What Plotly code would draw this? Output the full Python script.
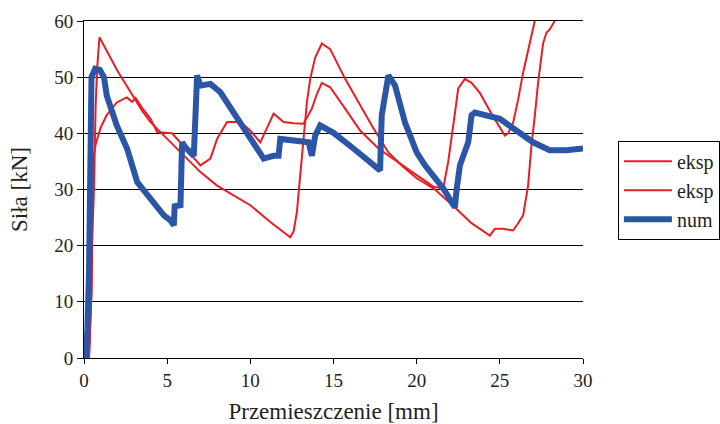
import plotly.graph_objects as go

# Experimental curve 1 (displacement [mm], force [kN])
eksp1_x = [0.30, 0.45, 0.50, 0.60, 0.70, 0.80, 0.93, 1.4, 2.0, 2.5, 3.0, 3.5, 4.0, 5.0,
           6.0, 7.0, 8.0, 9.0, 10.0, 11.2, 12.4, 12.6, 12.8, 13.0, 13.2, 13.4, 13.6, 13.9,
           14.3, 14.8, 15.7, 16.5, 17.3, 18.3, 19.2, 20.0, 21.1, 22.3, 23.3, 24.4, 24.7,
           25.2, 25.8, 26.1, 26.4, 26.7, 26.9, 27.1, 27.3, 27.6, 27.8, 28.0, 28.3]
eksp1_y = [0.0, 11.7, 22.0, 30.0, 45.0, 52.0, 57.1, 54.5, 51.2, 48.8, 46.4, 44.0, 42.0,
           39.0, 36.0, 33.1, 30.7, 29.0, 27.2, 24.2, 21.5, 22.5, 26.0, 32.5, 39.6, 45.5,
           49.7, 53.5, 56.0, 55.0, 49.7, 45.5, 41.4, 36.6, 34.0, 32.0, 30.0, 26.8, 24.0,
           21.8, 23.0, 23.0, 22.7, 24.0, 25.4, 30.7, 37.8, 43.0, 49.0, 56.0, 57.9, 58.5,
           60.0]

# Experimental curve 2
eksp2_x = [0.30, 0.45, 0.50, 0.57, 0.70, 0.80, 1.0, 1.36, 1.97, 2.57, 2.9, 3.1, 3.5,
           4.0, 4.4, 5.3, 6.2, 7.0, 7.6, 8.0, 8.6, 9.4, 10.0, 10.6, 11.4, 12.0, 12.6,
           13.2, 13.7, 14.0, 14.3, 14.8, 15.7, 16.6, 17.7, 18.8, 20.0, 21.0, 21.6, 21.9,
           22.2, 22.5, 22.9, 23.3, 23.8, 24.5, 25.3, 25.5, 25.8, 26.1, 26.4, 26.8, 27.1]
eksp2_y = [0.0, 12.0, 25.0, 35.7, 38.0, 39.0, 41.0, 43.2, 45.5, 46.4, 45.6, 46.3, 44.5,
           42.6, 40.2, 40.0, 37.0, 34.3, 35.5, 39.0, 42.0, 42.0, 40.5, 38.4, 43.5, 42.0,
           41.8, 41.7, 44.4, 47.0, 49.0, 48.2, 44.4, 40.5, 37.3, 35.0, 32.5, 30.5, 30.2,
           35.0, 41.4, 48.0, 49.7, 49.0, 47.2, 43.5, 39.6, 40.0, 41.9, 46.0, 50.8, 56.0,
           60.0]

# Numerical model
num_x = [0.10, 0.20, 0.30, 0.35, 0.38, 0.45, 0.67, 0.95, 1.2, 1.37, 1.97, 2.6, 3.2, 4.0,
         4.8, 5.2, 5.4, 5.45, 5.8, 5.85, 5.9, 6.1, 6.4, 6.6, 6.7, 6.8, 7.0, 7.6, 8.2,
         9.0, 10.0, 10.8, 11.4, 11.7, 11.8, 13.0, 13.5, 13.7, 13.9, 14.2, 15.0, 16.2,
         17.3, 17.8, 17.9, 18.1, 18.3, 18.7, 19.3, 20.0, 20.5, 21.6, 22.3, 22.4, 22.6,
         23.1, 23.3, 23.5, 25.0, 25.8, 27.0, 28.0, 29.0, 30.0]
num_y = [0.0, 5.0, 15.0, 30.0, 45.0, 50.0, 51.5, 51.3, 50.0, 46.7, 41.4, 37.2, 31.3,
         28.4, 25.4, 24.5, 23.6, 27.0, 27.2, 33.0, 38.4, 37.5, 36.6, 36.0, 43.0, 50.3,
         48.5, 48.8, 47.3, 43.7, 39.0, 35.5, 36.0, 36.0, 39.0, 38.7, 38.4, 36.0, 39.6,
         41.4, 40.1, 37.3, 34.8, 33.4, 43.2, 47.0, 50.3, 48.5, 41.9, 36.6, 34.3, 30.2,
         26.8, 30.0, 34.3, 38.4, 43.2, 43.7, 42.6, 40.9, 38.4, 37.0, 37.0, 37.3]

x_ticks = [0, 5, 10, 15, 20, 25, 30]
y_ticks = [0, 10, 20, 30, 40, 50, 60]

RED = "#ec1c24"
BLUE = "#2b56a8"
TEXT = "#231f20"
FONT = "Liberation Serif"

fig = go.Figure()
fig.add_trace(go.Scatter(x=eksp1_x, y=eksp1_y, mode="lines", name="eksp",
                         line=dict(color=RED, width=2)))
fig.add_trace(go.Scatter(x=eksp2_x, y=eksp2_y, mode="lines", name="eksp",
                         line=dict(color=RED, width=2)))
fig.add_trace(go.Scatter(x=num_x, y=num_y, mode="lines", name="num",
                         line=dict(color=BLUE, width=6)))

fig.update_layout(
    width=720, height=424,
    margin=dict(l=84, r=137, t=21, b=66, autoexpand=False),
    paper_bgcolor="white", plot_bgcolor="white",
    font=dict(family=FONT, size=19, color=TEXT),
    showlegend=True,
    legend=dict(x=1.07, y=0.645, xanchor="left", yanchor="top",
                bordercolor="black", borderwidth=1, bgcolor="white",
                font=dict(family=FONT, size=20, color=TEXT),
                itemwidth=48, tracegroupgap=0),
)
fig.update_xaxes(
    range=[0, 30], tickvals=x_ticks, ticktext=[str(v) for v in x_ticks],
    showgrid=False, zeroline=False, automargin=False,
    showline=True, linecolor="black", linewidth=1, mirror=True,
    ticks="outside", ticklen=5, tickcolor="black",
    title=dict(text="Przemieszczenie [mm]", standoff=16),
)
fig.update_yaxes(
    range=[0, 60], tickvals=y_ticks, ticktext=[str(v) for v in y_ticks],
    showgrid=True, gridcolor="black", gridwidth=1, zeroline=False, automargin=False,
    showline=True, linecolor="black", linewidth=1,
    ticks="outside", ticklen=6, tickcolor="black",
    title=dict(text="Siła [kN]", standoff=20),
)

fig.write_html("out.html")
